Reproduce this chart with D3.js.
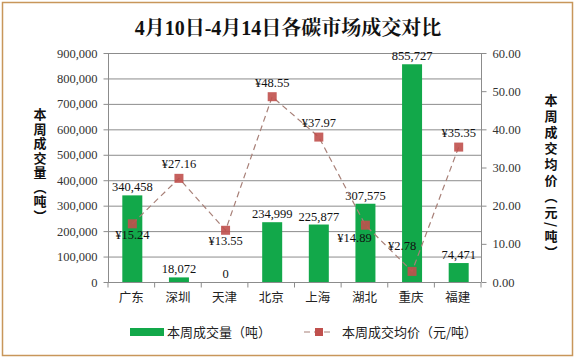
<!DOCTYPE html>
<html><head><meta charset="utf-8">
<script src="https://cdn.jsdelivr.net/npm/d3@7"></script>
<style>body{margin:0;background:#fff}svg{display:block}</style>
</head><body>
<script>
const categories = ["广东","深圳","天津","北京","上海","湖北","重庆","福建"];
const volumes = [340458, 18072, 0, 234999, 225877, 307575, 855727, 74471];
const prices = [15.24, 27.16, 13.55, 48.55, 37.97, 14.89, 2.78, 35.35];
const volumeTicks = [0,100000,200000,300000,400000,500000,600000,700000,800000,900000];
const priceTicks = [0,10,20,30,40,50,60];
const priceLabelPos = ["below","above","below","above","above","belowLeft","aboveLeft","above"];

const W=576,H=360;
const svg=d3.select("body").append("svg").attr("width",W).attr("height",H);
const serif="'Liberation Serif','Times New Roman',serif";
const cjk="'Noto Sans CJK SC',sans-serif";

svg.append("rect").attr("x",2.5).attr("y",2.5).attr("width",570).attr("height",353)
  .attr("fill","#fff").attr("stroke","#c8965a").attr("stroke-width",1.5);

svg.append("text").attr("x",288).attr("y",35).attr("text-anchor","middle")
  .attr("font-family","'Liberation Serif','Noto Serif CJK SC','Noto Sans CJK SC',serif")
  .attr("font-weight","bold").attr("font-size",20).attr("fill","#111")
  .text("4月10日-4月14日各碳市场成交对比");

const L=108,R=481,T=53,B=282;
const x=d3.scaleBand().domain(categories).range([L,R]);
const yL=d3.scaleLinear().domain([0,900000]).range([B,T]);
const yR=d3.scaleLinear().domain([0,60]).range([B,T]);

svg.append("g").selectAll("line").data(volumeTicks.filter(d=>d>0)).join("line")
  .attr("x1",L).attr("x2",R).attr("y1",d=>yL(d)+0.5).attr("y2",d=>yL(d)+0.5)
  .attr("stroke","#8c8c8c").attr("stroke-width",1);

const fmt=d3.format(",");
const gl=svg.append("g").attr("transform",`translate(${L+0.5},0)`)
  .call(d3.axisLeft(yL).tickValues(volumeTicks).tickFormat(fmt).tickSize(5).tickPadding(6));
gl.selectAll("text").attr("font-family",serif).attr("font-size",12.5).attr("fill","#333");
gl.selectAll("line,path").attr("stroke","#8c8c8c");
gl.select("path").attr("d",`M-0,${T}V${B}`);

const gr=svg.append("g").attr("transform",`translate(${R+0.5},0)`)
  .call(d3.axisRight(yR).tickValues(priceTicks).tickFormat(d3.format(".2f")).tickSize(5).tickPadding(6));
gr.selectAll("text").attr("font-family",serif).attr("font-size",12.5).attr("fill","#333");
gr.selectAll("line,path").attr("stroke","#8c8c8c");
gr.select("path").attr("d",`M0,${T}V${B}`);

const gb=svg.append("g").attr("transform",`translate(0,${B+0.5})`);
gb.append("line").attr("x1",L).attr("x2",R).attr("stroke","#8c8c8c");
gb.selectAll("line.t").data(d3.range(categories.length+1)).join("line").attr("class","t")
  .attr("x1",i=>L+i*x.step()).attr("x2",i=>L+i*x.step()).attr("y1",0).attr("y2",5).attr("stroke","#8c8c8c");
gb.selectAll("text").data(categories).join("text")
  .attr("x",d=>x(d)+x.bandwidth()/2).attr("y",19).attr("text-anchor","middle")
  .attr("font-family",cjk).attr("font-size",12.5).attr("fill","#222").text(d=>d);

const bw=20;
svg.append("g").selectAll("rect").data(volumes).join("rect")
  .attr("x",(d,i)=>x(categories[i])+x.bandwidth()/2-bw/2+1).attr("width",bw)
  .attr("y",d=>yL(d)).attr("height",d=>B-yL(d)).attr("fill","#12a84a");
svg.append("g").selectAll("text").data(volumes).join("text")
  .attr("x",(d,i)=>x(categories[i])+x.bandwidth()/2+1).attr("y",d=>yL(d)-4)
  .attr("text-anchor","middle").attr("font-family",serif).attr("font-size",12.5).attr("fill","#111")
  .text(d=>fmt(d));

const px=(d,i)=>x(categories[i])+x.bandwidth()/2+1;
const line=d3.line().x((d,i)=>px(d,i)).y(d=>yR(d));
svg.append("path").datum(prices).attr("d",line).attr("fill","none")
  .attr("stroke","#a88078").attr("stroke-width",1.2).attr("stroke-dasharray","6,4");
svg.append("g").selectAll("rect").data(prices).join("rect")
  .attr("x",(d,i)=>px(d,i)-4.5).attr("y",d=>yR(d)-4.5).attr("width",9).attr("height",9)
  .attr("fill","#c0504d").attr("opacity",0.9);
const offs={below:[0,15],above:[0,-10],belowLeft:[-11,17],aboveLeft:[-10,-21]};
svg.append("g").selectAll("text").data(prices).join("text")
  .attr("x",(d,i)=>px(d,i)+offs[priceLabelPos[i]][0])
  .attr("y",(d,i)=>yR(d)+offs[priceLabelPos[i]][1])
  .attr("text-anchor","middle").attr("font-family",serif).attr("font-size",12.5).attr("fill","#111")
  .text(d=>"¥"+d.toFixed(2));

function vtitle(str,cx,y0,sp){
  svg.append("text").attr("x",cx).attr("y",y0)
    .style("writing-mode","vertical-rl").style("letter-spacing",sp+"px")
    .attr("font-family",cjk).attr("font-weight","bold").attr("font-size",13).attr("fill","#111").text(str);
}
vtitle("本周成交量（吨）",40,108,1.5);
vtitle("本周成交均价（元/吨）",551,94,3);

const lg=svg.append("g");
lg.append("rect").attr("x",130).attr("y",328).attr("width",34).attr("height",8).attr("fill","#12a84a");
lg.append("text").attr("x",167).attr("y",337).attr("font-family",cjk).attr("font-size",13).attr("fill","#222").text("本周成交量（吨）");
lg.append("line").attr("x1",304).attr("x2",334).attr("y1",332).attr("y2",332).attr("stroke","#a88078").attr("stroke-width",1.2).attr("stroke-dasharray","6,4");
lg.append("rect").attr("x",315).attr("y",328).attr("width",8).attr("height",8).attr("fill","#c0504d");
lg.append("text").attr("x",342).attr("y",337).attr("font-family",cjk).attr("font-size",13).attr("fill","#222").text("本周成交均价（元/吨）");
</script>
</body></html>
